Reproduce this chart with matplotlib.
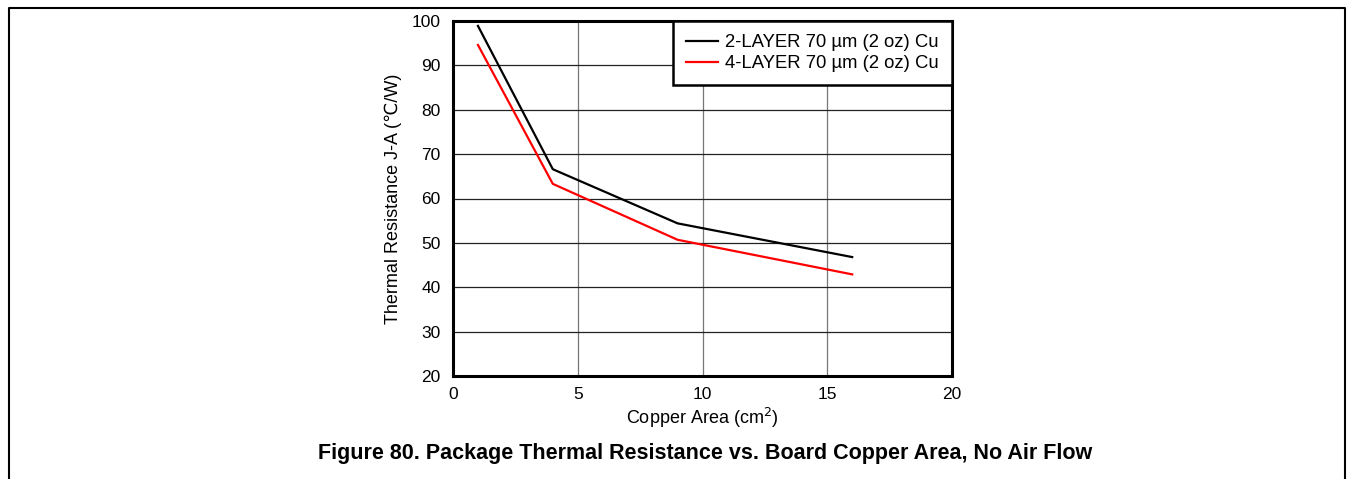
import matplotlib
matplotlib.use("Agg")
import matplotlib.pyplot as plt
from matplotlib.lines import Line2D

# 字体
plt.rcParams["font.family"] = ["Liberation Sans", "DejaVu Sans"]

# 数据
area = [1, 4, 9, 16]
two_layer = [98.9, 66.6, 54.4, 46.8]
four_layer = [94.6, 63.3, 50.7, 42.9]
x_ticks = [0, 5, 10, 15, 20]
y_ticks = [20, 30, 40, 50, 60, 70, 80, 90, 100]
labels = ["2-LAYER 70 µm (2 oz) Cu", "4-LAYER 70 µm (2 oz) Cu"]

fig = plt.figure(figsize=(13.53, 4.79), dpi=100)
ax = fig.add_axes([453 / 1353, 1 - 376 / 479, 499 / 1353, 355 / 479])

ax.plot(area, two_layer, color="black", lw=1.6, label=labels[0], zorder=3)
ax.plot(area, four_layer, color="red", lw=1.6, label=labels[1], zorder=3)

ax.set_xlim(0, 20)
ax.set_ylim(20, 100)
ax.set_xticks(x_ticks)
ax.set_yticks(y_ticks)
ax.tick_params(length=0, labelsize=12.5)
ax.tick_params(axis="x", pad=8)
ax.tick_params(axis="y", pad=9)

# 网格
for v in x_ticks[1:-1]:
    ax.axvline(v, color="#777777", lw=0.9, zorder=1)
for v in y_ticks[1:-1]:
    ax.axhline(v, color="#222222", lw=0.9, zorder=1)
for s in ax.spines.values():
    s.set_linewidth(2.2)

ax.set_xlabel("Copper Area (cm$^2$)", fontsize=13, labelpad=3)
ax.set_ylabel("Thermal Resistance J-A (℃/W)", fontsize=13, labelpad=7)

leg = ax.legend(loc="upper right", fontsize=13.3, frameon=True, fancybox=False,
                borderaxespad=0, handlelength=1.7, handletextpad=0.4,
                borderpad=0.72, labelspacing=0.2)
leg.get_frame().set_edgecolor("black")
leg.get_frame().set_linewidth(1.8)
leg.get_frame().set_alpha(1)

fig.text(705 / 1353, 1 - 453 / 479,
         "Figure 80. Package Thermal Resistance vs. Board Copper Area, No Air Flow",
         ha="center", va="center", fontsize=15.5, fontweight="bold")

# 外框
x0, x1, y0 = 8.5 / 1353, 1344.5 / 1353, 1 - 7.5 / 479
fig.add_artist(Line2D([x0, x0, x1, x1], [0, y0, y0, 0], color="black", lw=1.5,
                      transform=fig.transFigure))

fig.savefig("out.png", dpi=100)
